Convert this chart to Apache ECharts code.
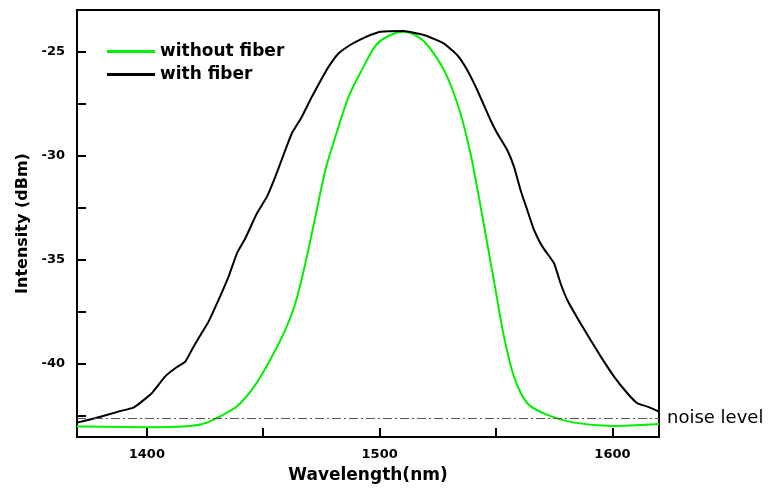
<!DOCTYPE html>
<html><head><meta charset="utf-8">
<script src="https://cdn.jsdelivr.net/npm/echarts@6/dist/echarts.min.js"></script>
<style>html,body{margin:0;padding:0;background:#fff}#c{width:771px;height:491px}</style>
</head><body><div id="c"></div>
<script>
const wavelengthNoFiber = [1370,1390,1405,1415,1423.6,1430.8,1439.4,1446.6,1453.7,1459.5,1463.8,1468.1,1472.4,1476.7,1481,1486.7,1492.5,1498.5,1504.6,1510.3,1517.5,1523.2,1529,1534.7,1539,1542.6,1546.2,1549.8,1553.4,1557.7,1563.4,1572,1583.5,1600.7,1610,1620];
const intensityNoFiber = [-43.0,-43.02,-43.03,-43.0,-42.89,-42.55,-41.96,-41.0,-39.64,-38.36,-37.08,-35.16,-32.92,-30.68,-29.08,-27.16,-25.85,-24.68,-24.2,-24.04,-24.36,-25.08,-26.2,-27.96,-29.88,-31.96,-34.2,-36.44,-38.68,-40.6,-41.88,-42.44,-42.81,-42.97,-42.93,-42.88];
const wavelengthFiber = [1370,1377.7,1387.8,1394.2,1397.8,1402.1,1407.8,1412.2,1416.5,1419.3,1422.2,1426.5,1430.8,1435.1,1438.7,1442.3,1447.3,1451.6,1455.2,1459.5,1462.3,1466.6,1470.9,1475.2,1478.1,1482.4,1488.2,1493,1496,1500.3,1510.3,1519,1527.5,1533.3,1537.6,1541.9,1547.6,1550.5,1554.8,1557.7,1560.5,1563.4,1566.3,1569.9,1574.9,1577.7,1580.6,1587.1,1590.6,1595,1600.7,1606.4,1610.7,1615,1620];
const intensityFiber = [-42.81,-42.6,-42.28,-42.09,-41.8,-41.4,-40.6,-40.2,-39.88,-39.32,-38.76,-37.96,-36.92,-35.8,-34.68,-33.96,-32.76,-31.96,-31.0,-29.72,-28.92,-28.12,-27.16,-26.28,-25.72,-25.08,-24.62,-24.35,-24.2,-24.04,-24.01,-24.2,-24.6,-25.16,-25.88,-26.84,-28.28,-28.92,-29.72,-30.52,-31.64,-32.6,-33.56,-34.36,-35.16,-36.12,-36.92,-38.2,-38.84,-39.64,-40.6,-41.4,-41.88,-42.04,-42.28];
const noiseLevel = -42.6;
const xTickLabels = [1400,1500,1600];
const yTickLabels = [-25,-30,-35,-40];

const zip = (a,b)=>a.map((v,i)=>[v,b[i]]);
const chart = echarts.init(document.getElementById('c'));
const font = 'DejaVu Sans, Liberation Sans, Arial, sans-serif';
chart.setOption({
  animation:false,
  grid:{left:77,right:112,top:10,bottom:54,show:true,borderColor:'#000',borderWidth:2,backgroundColor:'transparent'},
  legend:{
    orient:'vertical',left:102,top:38,itemWidth:48,itemHeight:3,itemGap:6,icon:'rect',
    data:['without fiber','with fiber'],
    textStyle:{fontFamily:font,fontWeight:'bold',fontSize:17,color:'#000'}
  },
  xAxis:{
    type:'value',min:1370,max:1620,interval:50,
    name:'Wavelength(nm)',nameLocation:'middle',nameGap:30,
    nameTextStyle:{fontFamily:font,fontWeight:'bold',fontSize:17,color:'#000'},
    axisLine:{lineStyle:{color:'#000',width:2}},
    axisTick:{inside:true,length:9,lineStyle:{color:'#000',width:2},customValues:[1400,1450,1500,1550,1600]},
    axisLabel:{fontFamily:font,fontWeight:'bold',fontSize:13,color:'#000',margin:11,customValues:xTickLabels,formatter:v=>String(v)},
    splitLine:{show:false}
  },
  yAxis:{
    type:'value',min:-43.5,max:-23,
    name:'Intensity (dBm)',nameLocation:'middle',nameGap:40,nameRotate:90,
    nameTextStyle:{fontFamily:font,fontWeight:'bold',fontSize:16,color:'#000'},
    axisLine:{lineStyle:{color:'#000',width:2}},
    axisTick:{inside:true,length:9,lineStyle:{color:'#000',width:2},customValues:[-25,-27.5,-30,-32.5,-35,-37.5,-40,-42.5]},
    axisLabel:{fontFamily:font,fontWeight:'bold',fontSize:13,color:'#000',margin:12,customValues:yTickLabels,formatter:v=>String(v)},
    splitLine:{show:false}
  },
  series:[
    {name:'without fiber',type:'line',data:zip(wavelengthNoFiber,intensityNoFiber),smooth:0.3,showSymbol:false,
     lineStyle:{color:'#00f000',width:2},itemStyle:{color:'#00f000'}},
    {name:'with fiber',type:'line',data:zip(wavelengthFiber,intensityFiber),smooth:0.15,showSymbol:false,
     lineStyle:{color:'#000',width:2},itemStyle:{color:'#000'},
     markLine:{silent:true,symbol:'none',
       lineStyle:{color:'#555',width:1,type:[9,3,2,3]},
       label:{show:true,position:'end',formatter:'noise level',fontFamily:font,fontSize:18,color:'#000',distance:8},
       data:[{yAxis:noiseLevel}]}}
  ]
});
</script></body></html>
